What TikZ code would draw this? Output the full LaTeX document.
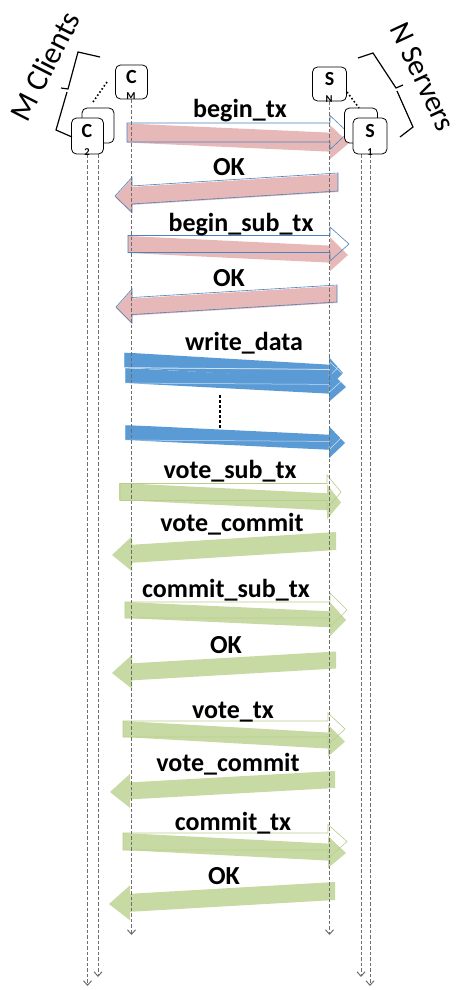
\documentclass[tikz,border=0pt]{standalone}
\usepackage{fontspec}
\setmainfont{Carlito}
\usetikzlibrary{arrows.meta}
\definecolor{pinkf}{HTML}{E6B9B8}
\definecolor{blueo}{HTML}{4F81BD}
\definecolor{bluef}{HTML}{5B9BD5}
\definecolor{greenf}{HTML}{C8DAA4}
\definecolor{greeno}{HTML}{B9CE8C}
\definecolor{lifegray}{HTML}{6E6E6E}
\pgfdeclarelayer{bglayer}
\pgfdeclarelayer{arrowlayer}
\pgfdeclarelayer{lifelayer}
\pgfsetlayers{bglayer,arrowlayer,lifelayer,main}
% #1 style, #2 tail x, #3 tip x, #4 tail centre y, #5 tip centre y, #6 shaft half, #7 head half, #8 head length
\newcommand{\blockarrow}[8]{%
  \pgfmathsetmacro\bsgn{(#3>#2)?1:-1}%
  \pgfmathsetmacro\bhb{#3-\bsgn*#8}%
  \pgfmathsetmacro\bcy{#4+(#5-#4)*(\bhb-#2)/(#3-#2)}%
  \path[#1] (#2,{#4-#6}) -- (\bhb,{\bcy-#6}) -- (\bhb,{\bcy-#7}) -- (#3,#5)
    -- (\bhb,{\bcy+#7}) -- (\bhb,{\bcy+#6}) -- (#2,{#4+#6}) -- cycle;}
\begin{document}
\begin{tikzpicture}[x=1pt,y=-1pt,
  boxst/.style={draw, rounded corners=5pt, fill=white, line width=0.8pt, inner sep=0pt},
  boxlet/.style={font=\fontsize{20}{22}\selectfont\bfseries, inner sep=0pt},
  subl/.style={font=\fontsize{10.5}{11}\selectfont\bfseries, inner sep=0pt},
  msg/.style={font=\fontsize{26}{30}\selectfont\bfseries, anchor=base, inner sep=0pt},
  lifeline/.style={draw=lifegray, line width=1pt, dash pattern=on 3.5pt off 2pt,
    -{Straight Barb[length=4.5pt,width=8pt]}},
  pinkfill/.style={fill=pinkf},
  pinkline/.style={draw=blueo, line width=0.6pt},
  bluefill/.style={fill=bluef},
  blueline/.style={draw=white, line width=0.5pt, draw opacity=0.7},
  greenfill/.style={fill=greenf},
  greenline/.style={draw=greeno, line width=0.6pt},
  bracket/.style={draw, line width=1.2pt, line join=miter},
  dots/.style={draw, line width=1.6pt, dash pattern=on 1.6pt off 2.2pt}]
\useasboundingbox (0,0) rectangle (460,990);
\begin{pgfonlayer}{bglayer}
\fill[white] (0,0) rectangle (460,990);
\end{pgfonlayer}

% ---------- message arrows ----------
\begin{pgfonlayer}{arrowlayer}
\blockarrow{pinkfill}{127}{349}{133}{143}{9.5}{17}{19}
\blockarrow{pinkline}{127}{348}{132.5}{132.5}{9.5}{17}{18}
\blockarrow{pinkfill}{338}{115}{183}{197}{9}{17.5}{17}
\blockarrow{pinkline}{338}{115}{182}{196}{9}{17.5}{17}
\blockarrow{pinkfill}{128}{348}{244.5}{255}{8.5}{17}{18}
\blockarrow{pinkline}{128}{349}{244}{244}{8.5}{17}{19}
\blockarrow{pinkfill}{337}{116}{294.5}{308}{8.5}{17}{16}
\blockarrow{pinkline}{337}{116}{293.5}{307}{8.5}{17}{16}

\blockarrow{bluefill}{124}{343}{360}{373}{7.5}{15}{14}
\blockarrow{blueline}{124}{343}{360}{362}{7.5}{15}{14}
\blockarrow{bluefill}{125}{346}{375.5}{387}{7.5}{15.5}{17}
\blockarrow{blueline}{125}{346}{375.5}{377}{7.5}{15.5}{17}
\blockarrow{bluefill}{125}{345}{432.5}{443}{7.5}{16}{16}
\blockarrow{blueline}{125}{345}{432.5}{434}{7.5}{16}{16}

\blockarrow{greenfill}{119}{341}{491.5}{502.5}{8.5}{17.5}{14}
\blockarrow{greenline}{120}{341}{492}{492}{8.5}{17}{14}
\blockarrow{greenfill}{336}{112}{541}{555}{9}{17.5}{20}
\blockarrow{greenfill}{125}{346}{610}{620}{8}{17}{16}
\blockarrow{greenline}{125}{347}{610}{610}{8}{17}{17}
\blockarrow{greenfill}{336}{112}{660}{673}{8.5}{17}{20}
\blockarrow{greenfill}{123}{345}{729}{741.5}{8}{16}{17}
\blockarrow{greenline}{123}{345}{729}{729}{8}{16}{17}
\blockarrow{greenfill}{335}{110}{779.5}{792}{8.5}{17}{20}
\blockarrow{greenfill}{123}{346}{841.5}{853}{8.5}{16}{18}
\blockarrow{greenline}{123}{347}{841.5}{841.5}{8.5}{17}{19}
\blockarrow{greenfill}{335}{109}{891}{904}{9}{17.5}{21}
\end{pgfonlayer}

% ---------- participant boxes ----------
\node[boxst, minimum width=32pt, minimum height=34pt] (cm) at (131.5,82) {};
\node[boxlet] (cmC) at (131.5,77.5) {C};
\node[subl] (cmM) at (131,96.5) {M};

\node[boxst, minimum width=32pt, minimum height=35pt] (cb) at (98,125.5) {};
\node[boxst, minimum width=32pt, minimum height=36pt] (c2) at (87.5,136) {};
\node[boxlet] (c2C) at (87,131.5) {C};
\node[subl] (c2n) at (87,152) {2};

\node[boxst, minimum width=34pt, minimum height=34pt] (sn) at (329.5,84) {};
\node[boxlet] (snS) at (329.5,79.5) {S};
\node[subl] (snN) at (329,99) {N};

\node[boxst, minimum width=33pt, minimum height=35pt] (sb) at (361,125.5) {};
\node[boxst, minimum width=34pt, minimum height=36pt] (s1) at (370,136) {};
\node[boxlet] (s1S) at (370,131.5) {S};
\node[subl] (s1n) at (370,152) {1};

% ---------- lifelines ----------
\coordinate (cmend) at (131.5,935);
\coordinate (snend) at (329.5,935);
\coordinate (cbend) at (98,977);
\coordinate (c2end) at (87.5,986);
\coordinate (sbend) at (361,977);
\coordinate (s1end) at (370,986);
\begin{pgfonlayer}{lifelayer}
\draw[lifeline] (cm.south) -- (cmend);
\draw[lifeline] (sn.south) -- (snend);
\draw[lifeline] (cb.south) -- (cbend);
\draw[lifeline] (c2.south) -- (c2end);
\draw[lifeline] (sb.south) -- (sbend);
\draw[lifeline] (s1.south) -- (s1end);
\end{pgfonlayer}

% ---------- dotted "..." lines ----------
\draw[dots] (93,102) -- (107,82);
\draw[dots] (347,92) -- (359,108);
\coordinate (wdtop) at (220,395);
\coordinate (wdbot) at (220,428);
\draw[dots, line width=2.2pt, dash pattern=on 2.5pt off 2.5pt] (wdtop) -- (wdbot);

% ---------- brackets ----------
\draw[bracket] (100,57) -- (78,52) -- (68,89) -- (61,88);
\draw[bracket] (67,92) -- (56,130) -- (72,137);
\draw[bracket] (358,58) -- (373,53) -- (396,88) -- (403,85);
\draw[bracket] (397,91) -- (413,127) -- (400,137);

\node[rotate=63, font=\fontsize{31}{36}\selectfont, inner sep=0pt] (mcl) at (45,66) {M Clients};
\node[rotate=-65, font=\fontsize{30}{36}\selectfont, inner sep=0pt] (nsv) at (423,77) {N Servers};

% ---------- message labels ----------
\node[msg] (l1) at (240,117) {begin\_tx};
\node[msg] (l2) at (229,175) {OK};
\node[msg] (l3) at (241,231) {begin\_sub\_tx};
\node[msg] (l4) at (229,286) {OK};
\node[msg] (l5) at (244,350) {write\_data};
\node[msg] (l6) at (230,478) {vote\_sub\_tx};
\node[msg] (l7) at (232,531) {vote\_commit};
\node[msg] (l8) at (226,597) {commit\_sub\_tx};
\node[msg] (l9) at (226,653) {OK};
\node[msg] (l10) at (233,718) {vote\_tx};
\node[msg] (l11) at (228,771) {vote\_commit};
\node[msg] (l12) at (233,830) {commit\_tx};
\node[msg] (l13) at (224,884) {OK};
\end{tikzpicture}
\end{document}
